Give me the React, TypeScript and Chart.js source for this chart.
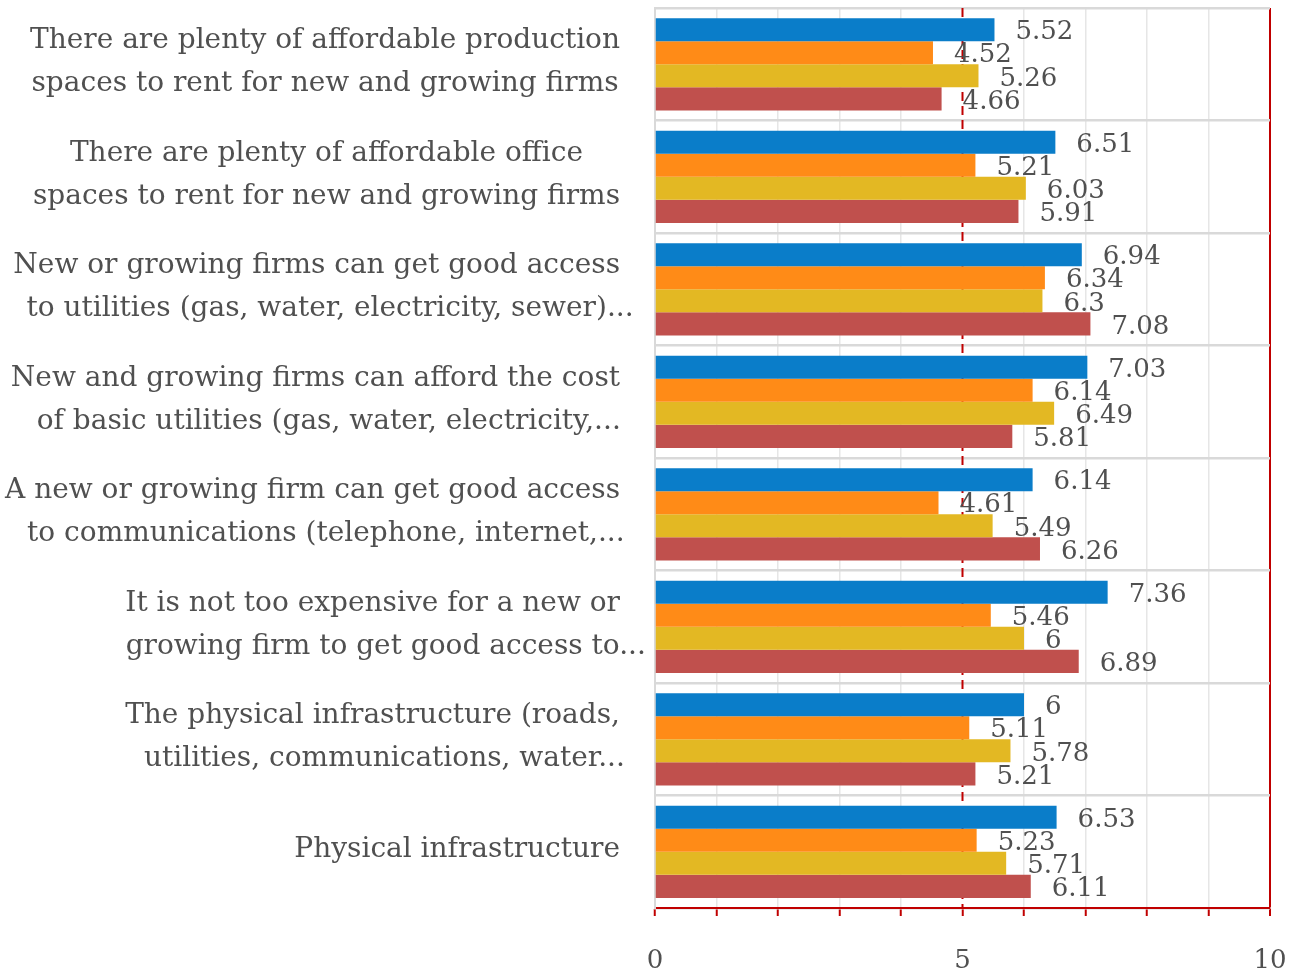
import React, { useEffect, useRef } from 'react';
import { Chart, registerables } from 'chart.js';

Chart.register(...registerables);

const categories: string[][] = [
  ['There are plenty of affordable production', 'spaces to rent for new and growing firms'],
  ['There are plenty of affordable office', 'spaces to rent for new and growing firms'],
  ['New or growing firms can get good access', 'to utilities (gas, water, electricity, sewer)...'],
  ['New and growing firms can afford the cost', 'of basic utilities (gas, water, electricity,...'],
  ['A new or growing firm can get good access', 'to communications (telephone, internet,...'],
  ['It is not too expensive for a new or', 'growing firm to get good access to...'],
  ['The physical infrastructure (roads,', 'utilities, communications, water...'],
  ['Physical infrastructure'],
];

const blueValues = [5.52, 6.51, 6.94, 7.03, 6.14, 7.36, 6, 6.53];
const orangeValues = [4.52, 5.21, 6.34, 6.14, 4.61, 5.46, 5.11, 5.23];
const yellowValues = [5.26, 6.03, 6.3, 6.49, 5.49, 6, 5.78, 5.71];
const redValues = [4.66, 5.91, 7.08, 5.81, 6.26, 6.89, 5.21, 6.11];

const labeledTicks = [0, 5, 10];

const FONT = '"DejaVu Serif", serif';
const TEXT = '#505050';
const RED = '#c00000';
const GRID = '#d9d9d9';

const categoryLabelPlugin = {
  id: 'categoryLabels',
  afterDraw(chart: any) {
    const ys = chart.scales.y;
    const c = chart.ctx;
    c.save();
    c.font = `28px ${FONT}`;
    c.fillStyle = TEXT;
    c.textBaseline = 'middle';
    c.textAlign = 'left';
    const right = ys.right - 35;
    const lineH = 43;
    categories.forEach((lines, i) => {
      const cy = ys.getPixelForValue(i) - 2;
      const stripped = lines.map((l) => l.replace(/\.\.\.$/, ''));
      const widths = stripped.map((s) => c.measureText(s).width);
      const bw = Math.max(...widths);
      const center = right - bw / 2;
      const n = lines.length;
      lines.forEach((l, j) => {
        const ly = cy + (j - (n - 1) / 2) * lineH;
        c.fillText(l, center - widths[j] / 2, ly);
      });
    });
    c.restore();
  },
};

const refLinePlugin = {
  id: 'refLine',
  beforeDatasetsDraw(chart: any) {
    const xs = chart.scales.x;
    const area = chart.chartArea;
    const c = chart.ctx;
    const x = xs.getPixelForValue(5);
    c.save();
    c.strokeStyle = RED;
    c.lineWidth = 2;
    c.setLineDash([9, 5]);
    c.beginPath();
    c.moveTo(x, area.top);
    c.lineTo(x, area.bottom);
    c.stroke();
    c.restore();
  },
};

const valueLabelPlugin = {
  id: 'valueLabels',
  afterDatasetsDraw(chart: any) {
    const c = chart.ctx;
    c.save();
    c.font = `26px ${FONT}`;
    c.fillStyle = TEXT;
    c.textBaseline = 'middle';
    c.textAlign = 'left';
    chart.data.datasets.forEach((ds: any, di: number) => {
      const meta = chart.getDatasetMeta(di);
      meta.data.forEach((el: any, i: number) => {
        const v = ds.data[i];
        c.fillText(String(v), el.x + 21, el.y + 3);
      });
    });
    c.restore();
  },
};

export default function App() {
  const ref = useRef<HTMLCanvasElement>(null);
  useEffect(() => {
    const canvas = ref.current;
    if (!canvas) return;
    const chart = new Chart(canvas, {
      type: 'bar',
      data: {
        labels: categories.map((l) => l.join(' ')),
        datasets: [
          { label: 'Blue', data: blueValues, backgroundColor: '#0a7dc9' },
          { label: 'Orange', data: orangeValues, backgroundColor: '#ff8b17' },
          { label: 'Yellow', data: yellowValues, backgroundColor: '#e3b823' },
          { label: 'Red', data: redValues, backgroundColor: '#c0504d' },
        ],
      },
      options: {
        indexAxis: 'y',
        animation: false,
        responsive: true,
        maintainAspectRatio: false,
        layout: { padding: { left: 0, right: 25, top: 8, bottom: 0 } },
        datasets: { bar: { barPercentage: 1, categoryPercentage: 0.82 } },
        plugins: {
          legend: { display: false },
          tooltip: { enabled: false },
        },
        scales: {
          x: {
            type: 'linear',
            min: 0,
            max: 10,
            afterFit: (s: any) => {
              s.height = 69;
              s.paddingRight = 0;
              s.paddingLeft = 0;
            },
            ticks: {
              stepSize: 1,
              autoSkip: false,
              maxRotation: 0,
              padding: 30,
              color: TEXT,
              font: { family: FONT, size: 26 },
              callback: (v: any) => (labeledTicks.includes(Number(v)) ? String(v) : ''),
            },
            grid: {
              drawTicks: true,
              tickLength: 8,
              tickWidth: 2,
              tickColor: RED,
              lineWidth: (ctx: any) => (ctx.tick && ctx.tick.value === 10 ? 2 : 1.5),
              color: (ctx: any) => {
                const v = ctx.tick ? ctx.tick.value : -1;
                if (v === 10) return RED;
                if (v === 5) return 'rgba(0,0,0,0)';
                if (v === 0) return GRID;
                return '#e6e6e6';
              },
            },
            border: { display: true, color: RED, width: 2 },
          },
          y: {
            type: 'category',
            afterFit: (s: any) => {
              s.width = 655;
            },
            ticks: { display: false },
            grid: { offset: true, drawTicks: false, color: GRID, lineWidth: 2.5 },
            border: { display: true, color: GRID, width: 2 },
          },
        },
      },
      plugins: [refLinePlugin, valueLabelPlugin, categoryLabelPlugin],
    });
    return () => chart.destroy();
  }, []);
  return (
    <div style={{ position: 'fixed', left: 0, top: 0, width: 1295, height: 977, background: '#ffffff' }}>
      <canvas ref={ref} />
    </div>
  );
}
